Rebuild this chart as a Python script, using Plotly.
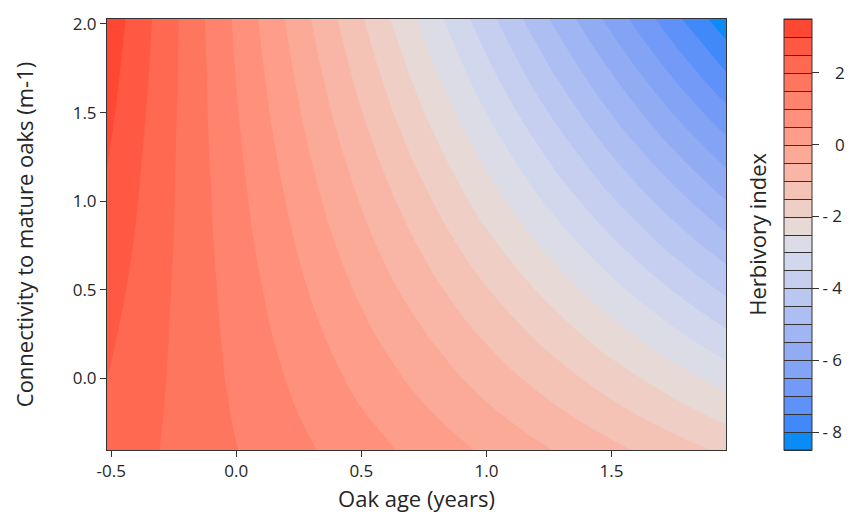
import plotly.graph_objects as go

# Oak age (years) grid
oak_age = [-0.517, -0.25, 0.0, 0.25, 0.5, 0.75, 1.0, 1.25, 1.5, 1.75, 1.958]
# Connectivity to mature oaks (m-1) grid
connectivity = [-0.404, -0.1, 0.2, 0.5, 0.8, 1.1, 1.4, 1.7, 2.028]
# Herbivory index (rows = connectivity, cols = oak age)
herbivory = [
    [2.33, 1.91, 1.51, 1.11, 0.72, 0.32, -0.08, -0.48, -0.87, -1.27, -1.60],
    [2.46, 1.93, 1.43, 0.94, 0.44, -0.05, -0.55, -1.04, -1.54, -2.03, -2.44],
    [2.58, 1.95, 1.36, 0.77, 0.18, -0.41, -1.01, -1.60, -2.19, -2.78, -3.27],
    [2.71, 1.97, 1.29, 0.60, -0.09, -0.78, -1.47, -2.15, -2.84, -3.53, -4.10],
    [2.84, 2.00, 1.21, 0.43, -0.36, -1.14, -1.93, -2.71, -3.49, -4.28, -4.93],
    [2.96, 2.02, 1.14, 0.26, -0.62, -1.50, -2.39, -3.27, -4.15, -5.03, -5.76],
    [3.09, 2.04, 1.06, 0.09, -0.89, -1.87, -2.85, -3.82, -4.80, -5.78, -6.59],
    [3.21, 2.07, 0.99, -0.08, -1.16, -2.23, -3.31, -4.38, -5.45, -6.53, -7.42],
    [3.35, 2.09, 0.91, -0.27, -1.45, -2.63, -3.81, -4.99, -6.17, -7.35, -8.33],
]

x_ticks = [-0.5, 0.0, 0.5, 1.0, 1.5]
x_ticklabels = ["-0.5", "0.0", "0.5", "1.0", "1.5"]
y_ticks = [0.0, 0.5, 1.0, 1.5, 2.0]
y_ticklabels = ["0.0", "0.5", "1.0", "1.5", "2.0"]
cb_ticks = [2, 0, -2, -4, -6, -8]
cb_ticklabels = ["\u2007\u20092", "\u2007\u20090", "- 2", "- 4", "- 6", "- 8"]

# band colours from lowest (-8.5) to highest (3.5), step 0.5
band_colors = [
    "#0B8BF6", "#4189F9", "#5F92F8", "#729AF6", "#83A3F5", "#92ACF4",
    "#A0B5F3", "#ADBEF2", "#BAC7F1", "#C6CFEF", "#D1D7EC", "#DCDCE6",
    "#E7D9D5", "#EFCEC6", "#F5C2B6", "#F9B6A7", "#FCAA98", "#FE9D89",
    "#FF907B", "#FF836D", "#FF765F", "#FF6851", "#FF5943", "#FF4833",
]
z_lo, z_hi, z_step = -8.5, 3.5, 0.5

n = len(band_colors)
colorscale = []
for i, c in enumerate(band_colors):
    colorscale.append([i / n, c])
    colorscale.append([(i + 1) / n, c])

font_family = "Open Sans, Noto Sans, sans-serif"
dark = "#262626"

fig = go.Figure()
fig.add_trace(go.Contour(
    x=oak_age, y=connectivity, z=herbivory,
    colorscale=colorscale, zmin=z_lo, zmax=z_hi, zauto=False,
    autocontour=False,
    contours=dict(start=z_lo, end=z_hi, size=z_step, coloring="fill"),
    line=dict(width=0, smoothing=1.3),
    showscale=False, hoverinfo="skip",
))
# invisible twin used only for the colour key with band separators
fig.add_trace(go.Contour(
    x=oak_age, y=connectivity, z=herbivory,
    colorscale=colorscale, zmin=z_lo, zmax=z_hi, zauto=False,
    autocontour=False,
    contours=dict(start=z_lo, end=z_hi, size=z_step, coloring="fill"),
    line=dict(width=1, color="#333333", smoothing=1.3),
    opacity=0, hoverinfo="skip",
    showscale=True,
    colorbar=dict(
        x=1.0937, xanchor="left", xpad=0,
        y=0.5, yanchor="middle", ypad=0,
        len=1.0, lenmode="fraction",
        thickness=28, thicknessmode="pixels",
        outlinewidth=1, outlinecolor="#333333",
        tickmode="array", tickvals=cb_ticks, ticktext=cb_ticklabels,
        ticks="outside", ticklen=7, tickwidth=1, tickcolor="#333333",
        tickfont=dict(family=font_family, size=17, color=dark),
    ),
))

fig.update_layout(
    width=858, height=520,
    margin=dict(l=107, r=132, t=15, b=70),
    paper_bgcolor="white", plot_bgcolor="white",
    font=dict(family=font_family, color=dark),
    showlegend=False,
    xaxis=dict(
        range=[oak_age[0], oak_age[-1]],
        tickmode="array", tickvals=x_ticks, ticktext=x_ticklabels,
        ticks="outside", ticklen=6, tickcolor="#333333",
        showline=True, mirror=True, linecolor="#333333", linewidth=1,
        showgrid=False, zeroline=False,
        tickfont=dict(size=17, color=dark),
        title=dict(text="Oak age (years)", font=dict(size=22, color=dark), standoff=10),
    ),
    yaxis=dict(
        range=[connectivity[0], connectivity[-1]],
        tickmode="array", tickvals=y_ticks, ticktext=y_ticklabels,
        ticks="outside", ticklen=6, tickcolor="#333333",
        showline=True, mirror=True, linecolor="#333333", linewidth=1,
        showgrid=False, zeroline=False,
        tickfont=dict(size=17, color=dark),
        title=dict(text="Connectivity to mature oaks (m-1)", font=dict(size=22, color=dark), standoff=32),
    ),
    annotations=[dict(
        text="Herbivory index", textangle=-90,
        x=1.049, y=0.5, xref="paper", yref="paper",
        xanchor="center", yanchor="middle", showarrow=False,
        font=dict(family=font_family, size=22, color=dark),
    )],
)

fig.write_html("out.html")
